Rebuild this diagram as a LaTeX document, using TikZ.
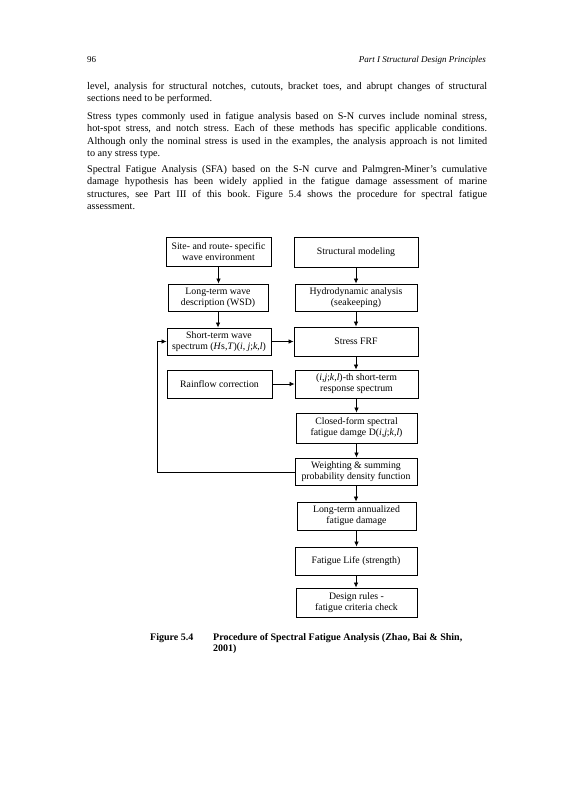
\documentclass[tikz,border=0pt]{standalone}
\usepackage{fontspec}
\setmainfont{Liberation Serif}
\usetikzlibrary{arrows.meta}
\frenchspacing
\begin{document}
\begin{tikzpicture}[x=1pt,y=-1pt,
  box/.style={draw, line width=0.9pt, inner sep=1pt, align=center,
    font=\fontsize{9.8}{11}\selectfont},
  arr/.style={line width=0.75pt, -{Latex[length=5pt,width=4.5pt]}},
  bodyline/.style={anchor=base west, inner sep=0pt, font=\fontsize{10.2}{12.3}\selectfont},
  capt/.style={anchor=base west, inner sep=0pt, font=\fontsize{10}{11}\selectfont\bfseries}]
\useasboundingbox[fill=white] (0,0) rectangle (567,800);

% header
\node[anchor=base west, inner sep=0pt, font=\fontsize{9}{10}\selectfont] (pg) at (87,63) {96};
\node[anchor=base east, inner sep=0pt, font=\fontsize{9}{10}\selectfont\itshape] (hd) at (486,63) {Part I Structural Design Principles};

% body text
\node[bodyline] (l1) at (87,89.5) {\makebox[400pt][s]{level, analysis for structural notches, cutouts, bracket toes, and abrupt changes of structural}};
\node[bodyline] (l2) at (87,101.8) {sections need to be performed.};
\node[bodyline] (l3) at (87,119.5) {\makebox[400pt][s]{Stress types commonly used in fatigue analysis based on S-N curves include nominal stress,}};
\node[bodyline] (l4) at (87,131.8) {\makebox[400pt][s]{hot-spot stress, and notch stress. Each of these methods has specific applicable conditions.}};
\node[bodyline] (l5) at (87,144.1) {\makebox[400pt][s]{Although only the nominal stress is used in the examples, the analysis approach is not limited}};
\node[bodyline] (l6) at (87,156.4) {to any stress type.};
\node[bodyline] (l7) at (87,172.5) {\makebox[400pt][s]{Spectral Fatigue Analysis (SFA) based on the S-N curve and Palmgren-Miner's cumulative}};
\node[bodyline] (l8) at (87,184.8) {\makebox[400pt][s]{damage hypothesis has been widely applied in the fatigue damage assessment of marine}};
\node[bodyline] (l9) at (87,197.1) {\makebox[400pt][s]{structures, see Part III of this book. Figure 5.4 shows the procedure for spectral fatigue}};
\node[bodyline] (l10) at (87,209.4) {assessment.};

% left column
\node[box, minimum width=105pt, minimum height=29pt] (site) at (218.5,251.5) {Site- and route- specific\\wave environment};
\node[box, minimum width=100pt, minimum height=27pt] (wsd) at (218,297.5) {Long-term wave\\description (WSD)};
\node[box, minimum width=104pt, minimum height=27pt] (short) at (219,341.5) {Short-term wave\\spectrum (\textit{H}s,\textit{T})(\textit{i}, \textit{j};\textit{k},\textit{l})};
\node[box, minimum width=105pt, minimum height=28pt] (rain) at (219.5,384) {Rainflow correction};

% right column
\node[box, minimum width=124pt, minimum height=30pt] (struct) at (356,252) {Structural modeling};
\node[box, minimum width=122pt, minimum height=27pt] (hydro) at (356,297.5) {Hydrodynamic analysis\\(seakeeping)};
\node[box, minimum width=124pt, minimum height=29pt] (frf) at (356,341.5) {Stress FRF};
\node[box, minimum width=123pt, minimum height=28pt] (resp) at (356.5,384) {(\textit{i},\textit{j};\textit{k},\textit{l})-th short-term\\response spectrum};
\node[box, minimum width=121pt, minimum height=30pt] (closed) at (356.5,428) {Closed-form spectral\\fatigue damge D(\textit{i},\textit{j};\textit{k},\textit{l})};
\node[box, minimum width=122pt, minimum height=27pt] (weight) at (356,471.5) {Weighting \& summing\\probability density function};
\node[box, minimum width=119pt, minimum height=28pt] (annual) at (356.5,516) {Long-term annualized\\fatigue damage};
\node[box, minimum width=122pt, minimum height=28pt] (life) at (356,561) {Fatigue Life (strength)};
\node[box, minimum width=121pt, minimum height=29pt] (rules) at (356.5,602.5) {Design rules -\\fatigue criteria check};

% connectors
\draw[arr] (site.south) -- (site.south |- wsd.north);
\draw[arr] (wsd.south) -- (wsd.south |- short.north);
\draw[arr] (struct.south) -- (struct.south |- hydro.north);
\draw[arr] (hydro.south) -- (hydro.south |- frf.north);
\draw[arr] (frf.south) -- (frf.south |- resp.north);
\draw[arr] (resp.south) -- (resp.south |- closed.north);
\draw[arr] (closed.south) -- (closed.south |- weight.north);
\draw[arr] (weight.south) -- (weight.south |- annual.north);
\draw[arr] (annual.south) -- (annual.south |- life.north);
\draw[arr] (life.south) -- (life.south |- rules.north);
\draw[arr] (short.east) -- (short.east -| frf.west);
\draw[arr] (rain.east) -- (rain.east -| resp.west);
\coordinate (fb) at (157,472);
\draw[arr] (weight.west |- fb) -- (fb) |- (short.west);

% caption
\node[capt] (fig) at (150,640.5) {Figure 5.4};
\node[capt] (cap1) at (213,640.5) {Procedure of Spectral Fatigue Analysis (Zhao, Bai \& Shin,};
\node[capt] (cap2) at (213,651.5) {2001)};
\end{tikzpicture}
\end{document}
